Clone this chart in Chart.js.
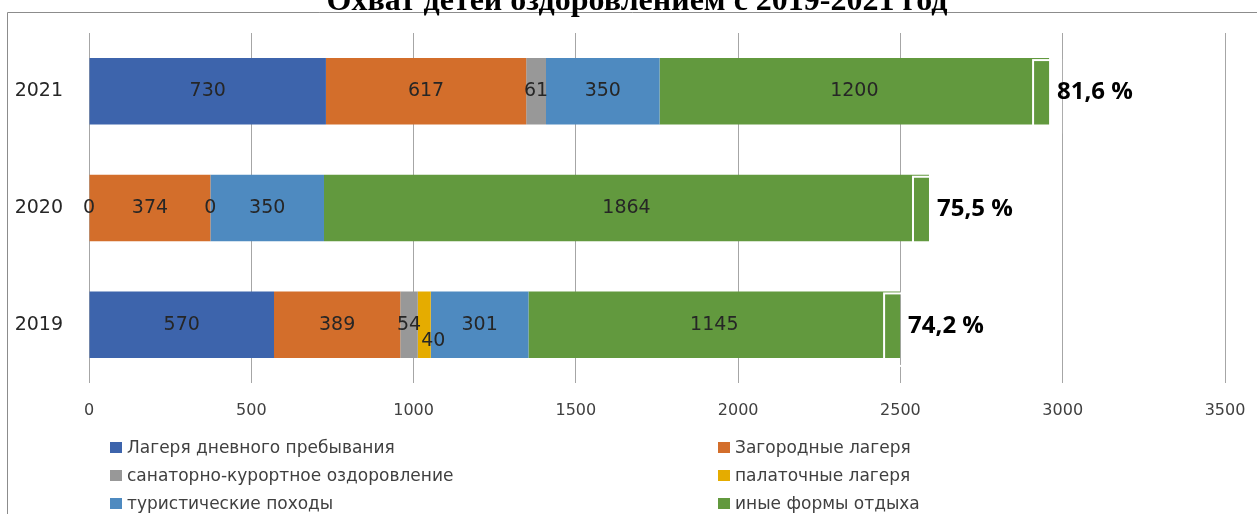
<!DOCTYPE html>
<html>
<head>
<meta charset="utf-8">
<script src="https://cdn.jsdelivr.net/npm/chart.js@4"></script>
<style>
  body { margin: 0; background: #fff; }
  #wrap { position: relative; width: 1257px; height: 514px; overflow: hidden; }
  #legend .item { position: absolute; font: 17px "DejaVu Sans"; color: #404040; white-space: nowrap; line-height: 20px; }
  #legend .box { display: inline-block; width: 12px; height: 11px; margin-right: 5px; vertical-align: 0px; }
</style>
</head>
<body>
<div id="wrap">
  <canvas id="myChart" width="1257" height="514"></canvas>
  <div id="legend"></div>
</div>
<script>
// data
const years = ['2021', '2020', '2019'];
const dayCamps = [730, 0, 570];
const countryCamps = [617, 374, 389];
const sanatorium = [61, 0, 54];
const tentCamps = [null, null, 40];
const hiking = [350, 350, 301];
const otherForms = [1200, 1864, 1145];
const percentLabels = ['81,6 %', '75,5 %', '74,2 %'];
const xTicks = [0, 500, 1000, 1500, 2000, 2500, 3000, 3500];

const seriesNames = [
    'Лагеря дневного пребывания',
    'Загородные лагеря',
    'санаторно-курортное оздоровление',
    'палаточные лагеря',
    'туристические походы',
    'иные формы отдыха'
];
const seriesColors = ['rgb(61,100,172)', 'rgb(211,110,43)', 'rgb(152,152,152)', 'rgb(229,172,0)', 'rgb(78,138,192)', 'rgb(98,153,62)'];
const seriesValues = [dayCamps, countryCamps, sanatorium, tentCamps, hiking, otherForms];

const title = 'Охват детей оздоровлением с 2019-2021 год';

// little nudge for the crowded "40" label
const labelNudge = { 3: [9, 16] };

const framePlugin = {
    id: 'frame',
    beforeDraw: (chart) => {
        const ctx = chart.ctx;
        ctx.save();
        ctx.fillStyle = 'white';
        ctx.fillRect(0, 0, chart.width, chart.height);
        ctx.strokeStyle = '#8c8c8c';
        ctx.lineWidth = 1;
        ctx.beginPath();
        ctx.moveTo(7.5, chart.height);
        ctx.lineTo(7.5, 12.5);
        ctx.lineTo(chart.width, 12.5);
        ctx.stroke();
        ctx.font = 'bold 32px "Liberation Serif"';
        ctx.fillStyle = '#000';
        ctx.textAlign = 'center';
        ctx.textBaseline = 'alphabetic';
        ctx.fillText(title, 637, 10);
        ctx.restore();
    }
};

const labelsPlugin = {
    id: 'barLabels',
    afterDatasetsDraw: (chart) => {
        const ctx = chart.ctx;
        ctx.save();
        ctx.font = '19px "DejaVu Sans"';
        ctx.fillStyle = '#262626';
        ctx.textAlign = 'center';
        ctx.textBaseline = 'middle';
        chart.data.datasets.forEach((ds, di) => {
            const meta = chart.getDatasetMeta(di);
            meta.data.forEach((el, i) => {
                const v = ds.data[i];
                if (v === null || v === undefined) return;
                const nudge = labelNudge[di] || [0, 0];
                ctx.fillText(String(v), (el.x + el.base) / 2 + nudge[0], el.y + nudge[1]);
            });
        });

        // white box at the bar ends + percentage
        const last = chart.getDatasetMeta(chart.data.datasets.length - 1);
        last.data.forEach((el, i) => {
            const top = el.y - el.height / 2;
            const bottom = el.y + el.height / 2;
            ctx.strokeStyle = 'white';
            ctx.lineWidth = 2;
            ctx.strokeRect(el.x - 16, top + 2, 28, bottom - top + 6);
            ctx.font = 'bold 24px "Open Sans"';
            ctx.fillStyle = '#000';
            ctx.textAlign = 'left';
            ctx.fillText(percentLabels[i], el.x + 8, el.y + 1);
        });
        ctx.restore();
    }
};

const configuration = {
    type: 'bar',
    data: {
        labels: years,
        datasets: seriesNames.map((name, i) => ({
            label: name,
            data: seriesValues[i],
            backgroundColor: seriesColors[i],
            borderWidth: 0,
            barPercentage: 0.57,
            categoryPercentage: 1
        }))
    },
    options: {
        indexAxis: 'y',
        responsive: false,
        animation: false,
        layout: { padding: { left: 0, top: 33, right: 32, bottom: 0 } },
        scales: {
            x: {
                stacked: true,
                min: 0,
                max: 3500,
                afterBuildTicks: (scale) => { scale.ticks = xTicks.map(v => ({ value: v })); },
                afterFit: (scale) => {
                    scale.height = 131;
                    scale.paddingLeft = 0;
                    scale.paddingRight = 0;
                },
                grid: { color: '#a6a6a6', lineWidth: 1, drawTicks: false },
                border: { display: false },
                ticks: {
                    padding: 18,
                    color: '#404040',
                    font: { family: 'DejaVu Sans', size: 16 },
                    callback: (value) => String(value)
                }
            },
            y: {
                stacked: true,
                afterFit: (scale) => {
                    scale.width = 89;
                    scale.paddingTop = 0;
                    scale.paddingBottom = 0;
                },
                grid: { display: false, drawTicks: false },
                border: { display: false },
                ticks: { padding: 26, color: '#262626', font: { family: 'DejaVu Sans', size: 19 } }
            }
        },
        plugins: {
            legend: { display: false },
            tooltip: { enabled: false }
        }
    },
    plugins: [framePlugin, labelsPlugin]
};

new Chart(document.getElementById('myChart'), configuration);

// legend in two columns, rows filled left to right
const legend = document.getElementById('legend');
const colX = [110, 718];
const rowY = [437, 465, 493];
seriesNames.forEach((name, i) => {
    const item = document.createElement('div');
    item.className = 'item';
    item.style.left = colX[i % 2] + 'px';
    item.style.top = rowY[Math.floor(i / 2)] + 'px';
    item.innerHTML = `<span class="box" style="background:${seriesColors[i]}"></span>${name}`;
    legend.appendChild(item);
});
</script>
</body>
</html>
